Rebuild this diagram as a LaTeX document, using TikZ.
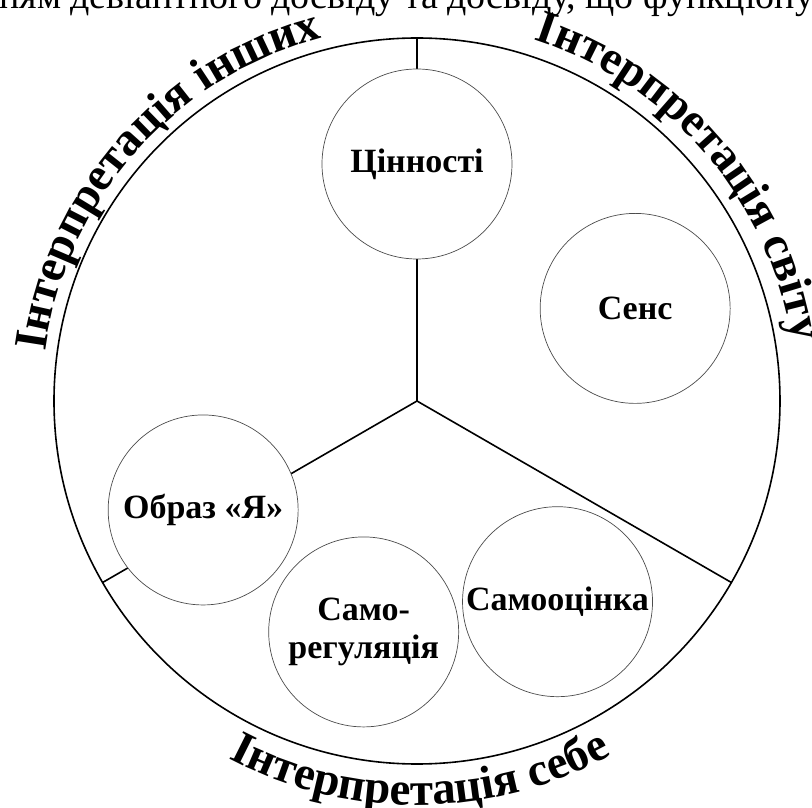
\documentclass[tikz,border=0pt]{standalone}
\usepackage{fontspec}
\setmainfont{Liberation Serif}
\usetikzlibrary{decorations.text}

\begin{document}
\begin{tikzpicture}[x=1pt,y=1pt,
	bubble/.style={circle,draw=black!70,line width=0.7pt,fill=white,minimum size=190pt,inner sep=0pt,align=center,font=\bfseries\fontsize{34}{38}\selectfont},
	divline/.style={line width=1.6pt},
	arclabel/.style={decorate,decoration={text along path,text align=center,text={|\bfseries\fontsize{47}{47}\selectfont|#1}}}]

			\useasboundingbox (-417,-407) rectangle (395,401);

			\node[anchor=base west,inner sep=0pt,font=\fontsize{38}{38}\selectfont] (caption) at (-418,392) {ням девіантного досвіду та досвіду, що функціонує};

			\coordinate (hub) at (0,0);
			\coordinate (rimN) at (90:363pt);
			\coordinate (rimSE) at (-30:363pt);
			\coordinate (rimSW) at (210:363pt);

			\draw[divline] (hub) circle (363pt);
			\draw[divline] (hub) -- (rimN);
			\draw[divline] (hub) -- (rimSE);
			\draw[divline] (hub) -- (rimSW);

			\node[bubble] (values) at (90:237pt) {Цінності};
			\node[bubble] (sense) at (23:237pt) {Сенс};
			\node[bubble] (selfimage) at (207:240pt) {Образ «Я»};
			\node[bubble] (selfreg) at (257:237pt) {Само-\\регуляція};
			\node[bubble] (selfesteem) at (305:245pt) {Самооцінка};

			\path[arclabel={Інтерпретація інших}] (188.5:375pt) arc[start angle=188.5,end angle=88.5,radius=375pt];
			\path[arclabel={Інтерпретація світу}] (90:380pt) arc[start angle=90,end angle=-9,radius=380pt];
			\path[arclabel={Інтерпретація себе}] (225:404pt) arc[start angle=225,end angle=316,radius=404pt];
		\end{tikzpicture}
\end{document}
